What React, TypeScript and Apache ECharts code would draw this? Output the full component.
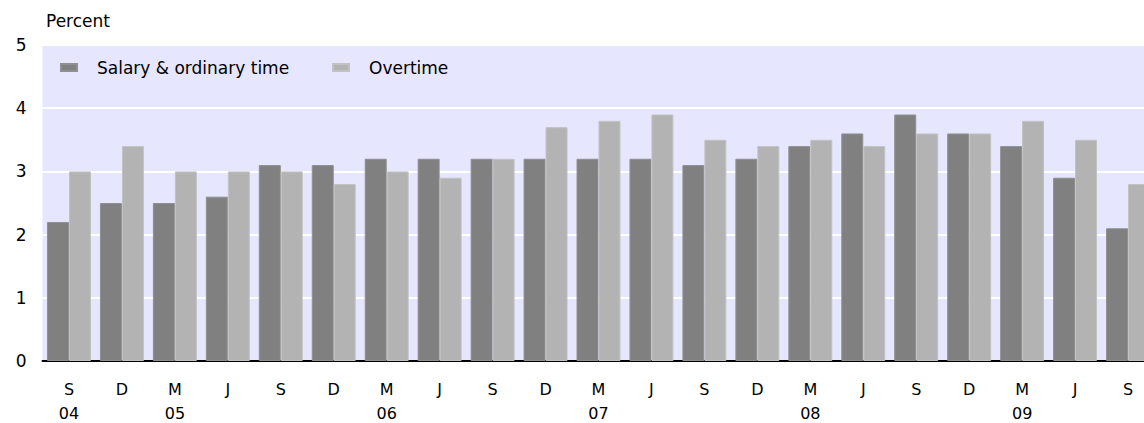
import React, { useEffect, useRef } from "react";
import * as echarts from "echarts";

const months = ["S","D","M","J","S","D","M","J","S","D","M","J","S","D","M","J","S","D","M","J","S"];
const years = ["04","","05","","","","06","","","","07","","","","08","","","","09","",""];
const salary = [2.2,2.5,2.5,2.6,3.1,3.1,3.2,3.2,3.2,3.2,3.2,3.2,3.1,3.2,3.4,3.6,3.9,3.6,3.4,2.9,2.1];
const overtime = [3.0,3.4,3.0,3.0,3.0,2.8,3.0,2.9,3.2,3.7,3.8,3.9,3.5,3.4,3.5,3.4,3.6,3.6,3.8,3.5,2.8];
const seriesNames = ["Salary & ordinary time", "Overtime"];

export default function App() {
  const ref = useRef<HTMLDivElement>(null);
  useEffect(() => {
    if (!ref.current) return;
    const chart = echarts.init(ref.current, null, { renderer: "svg" });
    const font = "'DejaVu Sans', Verdana, sans-serif";
    const cats = months.map((m, i) => (years[i] ? m + "\n" + years[i] : m));
    const legendBase = {
      top: 54,
      itemWidth: 16,
      itemHeight: 7,
      icon: "rect",
      textStyle: { fontFamily: font, fontSize: 17, color: "#000", padding: [0, 0, 0, 15] },
    };
    chart.setOption({
      animation: false,
      textStyle: { fontFamily: font },
      grid: {
        left: 42.5,
        right: -10.5,
        top: 45,
        bottom: 62,
        show: true,
        backgroundColor: "#E6E6FF",
        borderWidth: 0,
        outerBoundsMode: "none",
        containLabel: false,
      },
      legend: [
        { ...legendBase, left: 55, data: [seriesNames[0]] },
        { ...legendBase, left: 327, data: [seriesNames[1]] },
      ],
      graphic: [
        {
          type: "text",
          left: 46,
          top: 12,
          style: { text: "Percent", fontFamily: font, fontSize: 17, fill: "#000" },
        },
      ],
      xAxis: {
        type: "category",
        data: cats,
        axisTick: { show: false },
        axisLine: { show: true, lineStyle: { color: "#000", width: 2 } },
        axisLabel: {
          color: "#000",
          fontSize: 16,
          fontFamily: font,
          lineHeight: 24,
          margin: 16,
          verticalAlign: "top",
          interval: 0,
        },
        splitLine: { show: false },
      },
      yAxis: {
        type: "value",
        min: 0,
        max: 5,
        interval: 1,
        axisLine: { show: false },
        axisTick: { show: false },
        axisLabel: { color: "#000", fontSize: 17, fontFamily: font, margin: 16 },
        splitLine: { show: true, lineStyle: { color: "#FFFFFF", width: 2 } },
      },
      series: [
        {
          name: seriesNames[0],
          type: "bar",
          data: salary,
          barGap: "0%",
          barCategoryGap: "17%",
          itemStyle: { color: "#808080", borderColor: "#8f8f8f", borderWidth: 1 },
        },
        {
          name: seriesNames[1],
          type: "bar",
          data: overtime,
          itemStyle: { color: "#B3B3B3", borderColor: "#c2c2c2", borderWidth: 1 },
        },
      ],
    });
    return () => chart.dispose();
  }, []);
  return (
    <div
      ref={ref}
      style={{ position: "fixed", left: 0, top: 0, width: 1144, height: 423, background: "#fff" }}
    />
  );
}
